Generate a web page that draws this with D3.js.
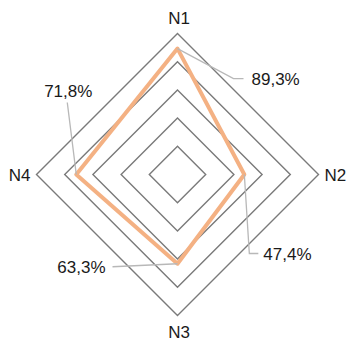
<!DOCTYPE html>
<html><head><meta charset="utf-8">
<script src="https://cdn.jsdelivr.net/npm/d3@7"></script>
<style>body{margin:0;background:#fff}svg{display:block}text{font-family:"Liberation Sans",Arial,sans-serif;fill:#1a1a1a}</style>
</head><body><svg id="c" width="348" height="342"></svg>
<script>
const categories = ["N1","N2","N3","N4"];
const values = [89.3, 47.4, 63.3, 71.8];
const valueLabels = ["89,3%","47,4%","63,3%","71,8%"];
const gridLevels = [20,40,60,80,100];

const W=348,H=342,cx=177.5,cy=174.5,R=141;
const svg=d3.select("#c");
const r=d3.scaleLinear().domain([0,100]).range([0,R]);
const ang=i=>-Math.PI/2+i*2*Math.PI/categories.length;
const pt=(i,v)=>[cx+r(v)*Math.cos(ang(i)),cy+r(v)*Math.sin(ang(i))];
const line=d3.line().curve(d3.curveLinearClosed);

svg.append("g").selectAll("path").data(gridLevels).join("path")
 .attr("d",l=>line(categories.map((c,i)=>pt(i,l))))
 .attr("fill","none").attr("stroke","#7a7a7a").attr("stroke-width",1.4);

// axis labels
const catAnchor=["middle","start","middle","end"];
svg.append("g").selectAll("text").data(categories).join("text")
 .attr("x",(c,i)=>pt(i,100)[0]+(i==1?6:i==3?-6:1.5))
 .attr("y",(c,i)=>{const p=pt(i,100); return i==0?p[1]-10:i==2?p[1]+22:p[1]+6.5;})
 .attr("text-anchor",(c,i)=>catAnchor[i])
 .attr("font-size",17).text(c=>c);

// series
svg.append("path").attr("d",line(values.map((v,i)=>pt(i,v))))
 .attr("fill","none").attr("stroke","#f4b183").attr("stroke-width",4).attr("stroke-linejoin","round");

// leader lines and value labels
const leaders=[
  [[0,0],[56,30],[66,30]],
  [[0,0],[5,79],[14,79]],
  [[0,0],[-65,3]],
  [[0,0],[-9,-72]]
];
const labelPos=[[74,36,"start"],[19,85,"start"],[-72,9,"end"],[-8,-78,"middle"]];
values.forEach((v,i)=>{
  const p=pt(i,v);
  svg.append("polyline").attr("points",leaders[i].map(d=>[p[0]+d[0],p[1]+d[1]].join(",")).join(" "))
    .attr("fill","none").attr("stroke","#b8b8b8").attr("stroke-width",1.3);
  svg.append("text").attr("x",p[0]+labelPos[i][0]).attr("y",p[1]+labelPos[i][1])
    .attr("text-anchor",labelPos[i][2]).attr("font-size",17).text(valueLabels[i]);
});
</script></body></html>
